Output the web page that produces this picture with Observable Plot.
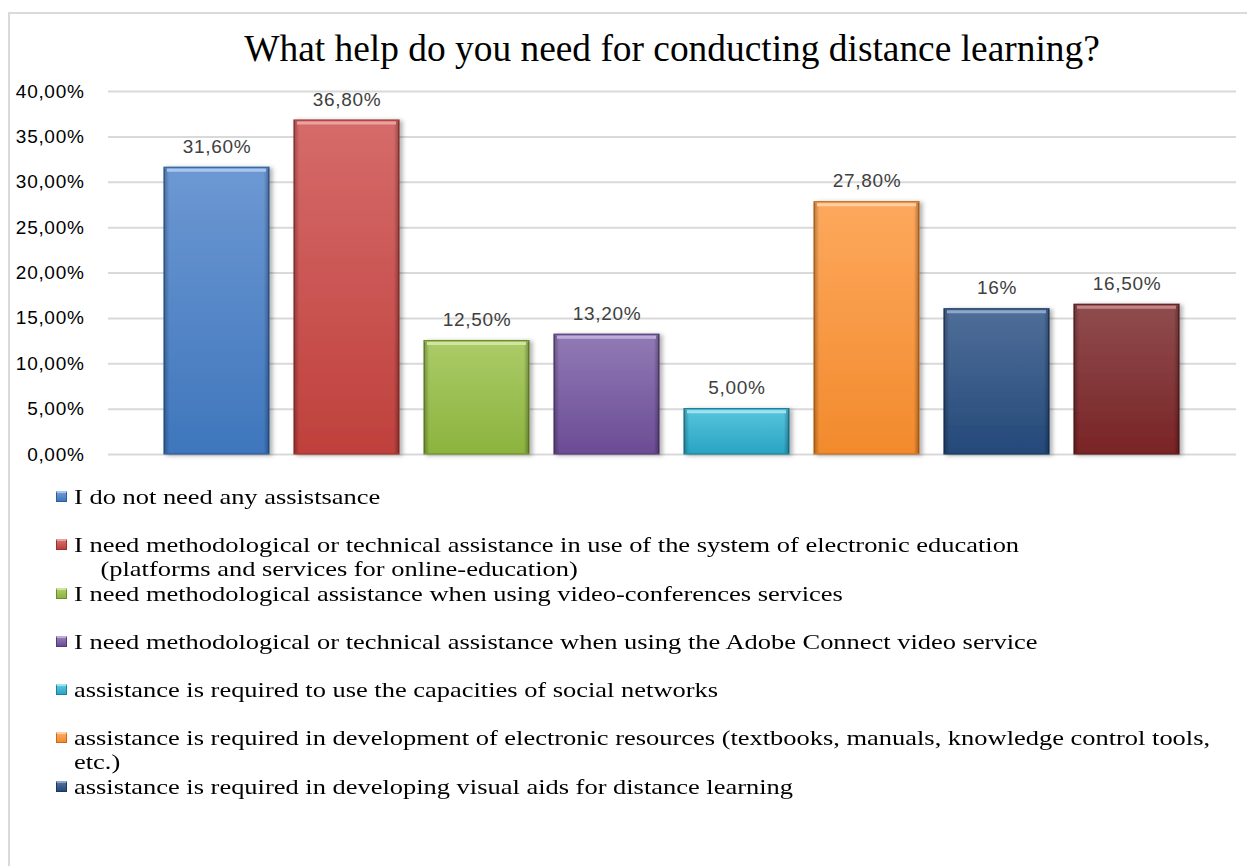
<!DOCTYPE html>
<html>
<head>
<meta charset="utf-8">
<script src="https://cdn.jsdelivr.net/npm/d3@7"></script>
<script src="https://cdn.jsdelivr.net/npm/@observablehq/plot@0.6"></script>
<style>
  html, body { margin: 0; padding: 0; background: #fff; }
  #wrap { position: relative; width: 1247px; height: 866px; overflow: hidden; background: #fff; }
  #frame { position: absolute; left: 8px; top: 12px; right: -4px; bottom: -4px; border-top: 2px solid #dadada; border-left: 2px solid #dadada; }
  #title { position: absolute; left: 0; width: 1344px; top: 30px; text-align: center; font-family: "Liberation Serif", "Times New Roman", serif; font-size: 37.4px; line-height: 38px; color: #000; white-space: nowrap; }
  #chart { position: absolute; left: 0; top: 70px; }
  #legend { position: absolute; left: 0; top: 485px; width: 1247px; }
  .item { position: relative; height: 48.3px; }
  .swatch { position: absolute; left: 56px; top: 6px; width: 11px; height: 11px; box-sizing: border-box; }
  .txt { position: absolute; left: 74px; top: 0; font-family: "Liberation Serif", "Times New Roman", serif; font-size: 21.5px; line-height: 24px; color: #000; white-space: pre; transform: scaleX(1.23); transform-origin: 0 0; }
</style>
</head>
<body>
<div id="wrap">
  <div id="frame"></div>
  <div id="title"></div>
  <div id="chart"></div>
  <div id="legend"></div>
</div>
<script>
const titleText = "What help do you need for conducting distance learning?";
const categories = [
  "I do not need any assistsance",
  "I need methodological or technical assistance in use of the system of electronic education\n    (platforms and services for online-education)",
  "I need methodological assistance when using video-conferences services",
  "I need methodological or technical assistance when using the Adobe Connect video service",
  "assistance is required to use the capacities of social networks",
  "assistance is required in development of electronic resources (textbooks, manuals, knowledge control tools,\netc.)",
  "assistance is required in developing visual aids for distance learning",
  "other"
];
const values = [31.6, 36.8, 12.5, 13.2, 5.0, 27.8, 16, 16.5];
const valueLabels = ["31,60%", "36,80%", "12,50%", "13,20%", "5,00%", "27,80%", "16%", "16,50%"];
const yTicks = [0, 5, 10, 15, 20, 25, 30, 35, 40];
const yTickLabels = ["0,00%", "5,00%", "10,00%", "15,00%", "20,00%", "25,00%", "30,00%", "35,00%", "40,00%"];
const topColors    = ["#6d98d3", "#d56b6a", "#abcb68", "#917ab5", "#58c5dd", "#fda85d", "#4f6e99", "#8f4c4e"];
const bottomColors = ["#3e76bc", "#bf403c", "#8cb33e", "#6b4c95", "#29a4c3", "#f28a2c", "#244979", "#792426"];
const edgeColors   = ["#2f5d95", "#973230", "#6d8c30", "#523a74", "#1f7f98", "#c06d22", "#1a375d", "#5c1b1d"];
const highlightColors = ["#a9c6ee", "#eba3a2", "#d0e6a0", "#beaed7", "#9fe2f0", "#ffd0a3", "#8ea6c8", "#c08486"];
const legendShown = 7;

const data = categories.map((c, i) => ({c, v: values[i], label: valueLabels[i], i}));

document.getElementById("title").textContent = titleText;

const chart = Plot.plot({
  width: 1247,
  height: 400,
  marginLeft: 108,
  marginRight: 11,
  marginTop: 21,
  marginBottom: 16,
  style: {fontFamily: "'Liberation Sans', Arial, sans-serif", fontSize: "19px", color: "#000", background: "transparent", overflow: "visible"},
  x: {domain: categories, paddingInner: 0.19, paddingOuter: 0.41, axis: null},
  y: {domain: [0, 40], ticks: yTicks, tickFormat: d => yTickLabels[yTicks.indexOf(d)], tickSize: 0, tickPadding: 24, label: null},
  color: {type: "identity"},
  marks: [
    Plot.ruleY(yTicks, {stroke: "#d9d9d9", strokeWidth: 2}),
    Plot.barY(data, {x: "c", y: "v", fill: d => `url(#barGrad${d.i})`, stroke: d => edgeColors[d.i], strokeWidth: 1.2}),
    Plot.barY(data, {x: "c", y: "v", fill: "url(#sideShade)", insetTop: 1, insetBottom: 1}),
    Plot.tickY(data, {x: "c", y: "v", stroke: d => highlightColors[d.i], strokeWidth: 3, dy: 2.5, insetLeft: 3, insetRight: 3}),
    Plot.text(data, {x: "c", y: "v", text: "label", dy: -21, fill: "#404040", fontSize: 19})
  ]
});

const svg = d3.select(chart);
const defs = svg.insert("defs", ":first-child");
data.forEach(d => {
  const g = defs.append("linearGradient").attr("id", `barGrad${d.i}`).attr("x1", 0).attr("y1", 0).attr("x2", 0).attr("y2", 1);
  g.append("stop").attr("offset", "0%").attr("stop-color", topColors[d.i]);
  g.append("stop").attr("offset", "100%").attr("stop-color", bottomColors[d.i]);
});
const sg = defs.append("linearGradient").attr("id", "sideShade").attr("x1", 0).attr("y1", 0).attr("x2", 1).attr("y2", 0);
[["0%", 0.28], ["5%", 0], ["95%", 0], ["100%", 0.3]].forEach(([o, a]) =>
  sg.append("stop").attr("offset", o).attr("stop-color", "#000").attr("stop-opacity", a));
const f = defs.append("filter").attr("id", "shadow").attr("x", "-10%").attr("y", "-10%").attr("width", "130%").attr("height", "120%");
f.append("feDropShadow").attr("dx", 3).attr("dy", 1).attr("stdDeviation", 2).attr("flood-color", "#000").attr("flood-opacity", 0.3);
svg.select('g[aria-label="bar"]').attr("filter", "url(#shadow)");
svg.selectAll('g[aria-label="y-axis tick label"] text, g[aria-label="text"] text').style("letter-spacing", "0.7px");
svg.selectAll('g[aria-label="y-axis tick label"]').attr("fill", "#000");

document.getElementById("chart").appendChild(chart);

const legend = d3.select("#legend");
categories.slice(0, legendShown).forEach((c, i) => {
  const item = legend.append("div").attr("class", "item");
  item.append("div").attr("class", "swatch")
    .style("background", `linear-gradient(${topColors[i]}, ${bottomColors[i]})`)
    .style("border", `1px solid ${edgeColors[i]}`)
    .style("border-top", `2px solid ${highlightColors[i]}`);
  item.append("div").attr("class", "txt").text(c);
});
</script>
</body>
</html>
